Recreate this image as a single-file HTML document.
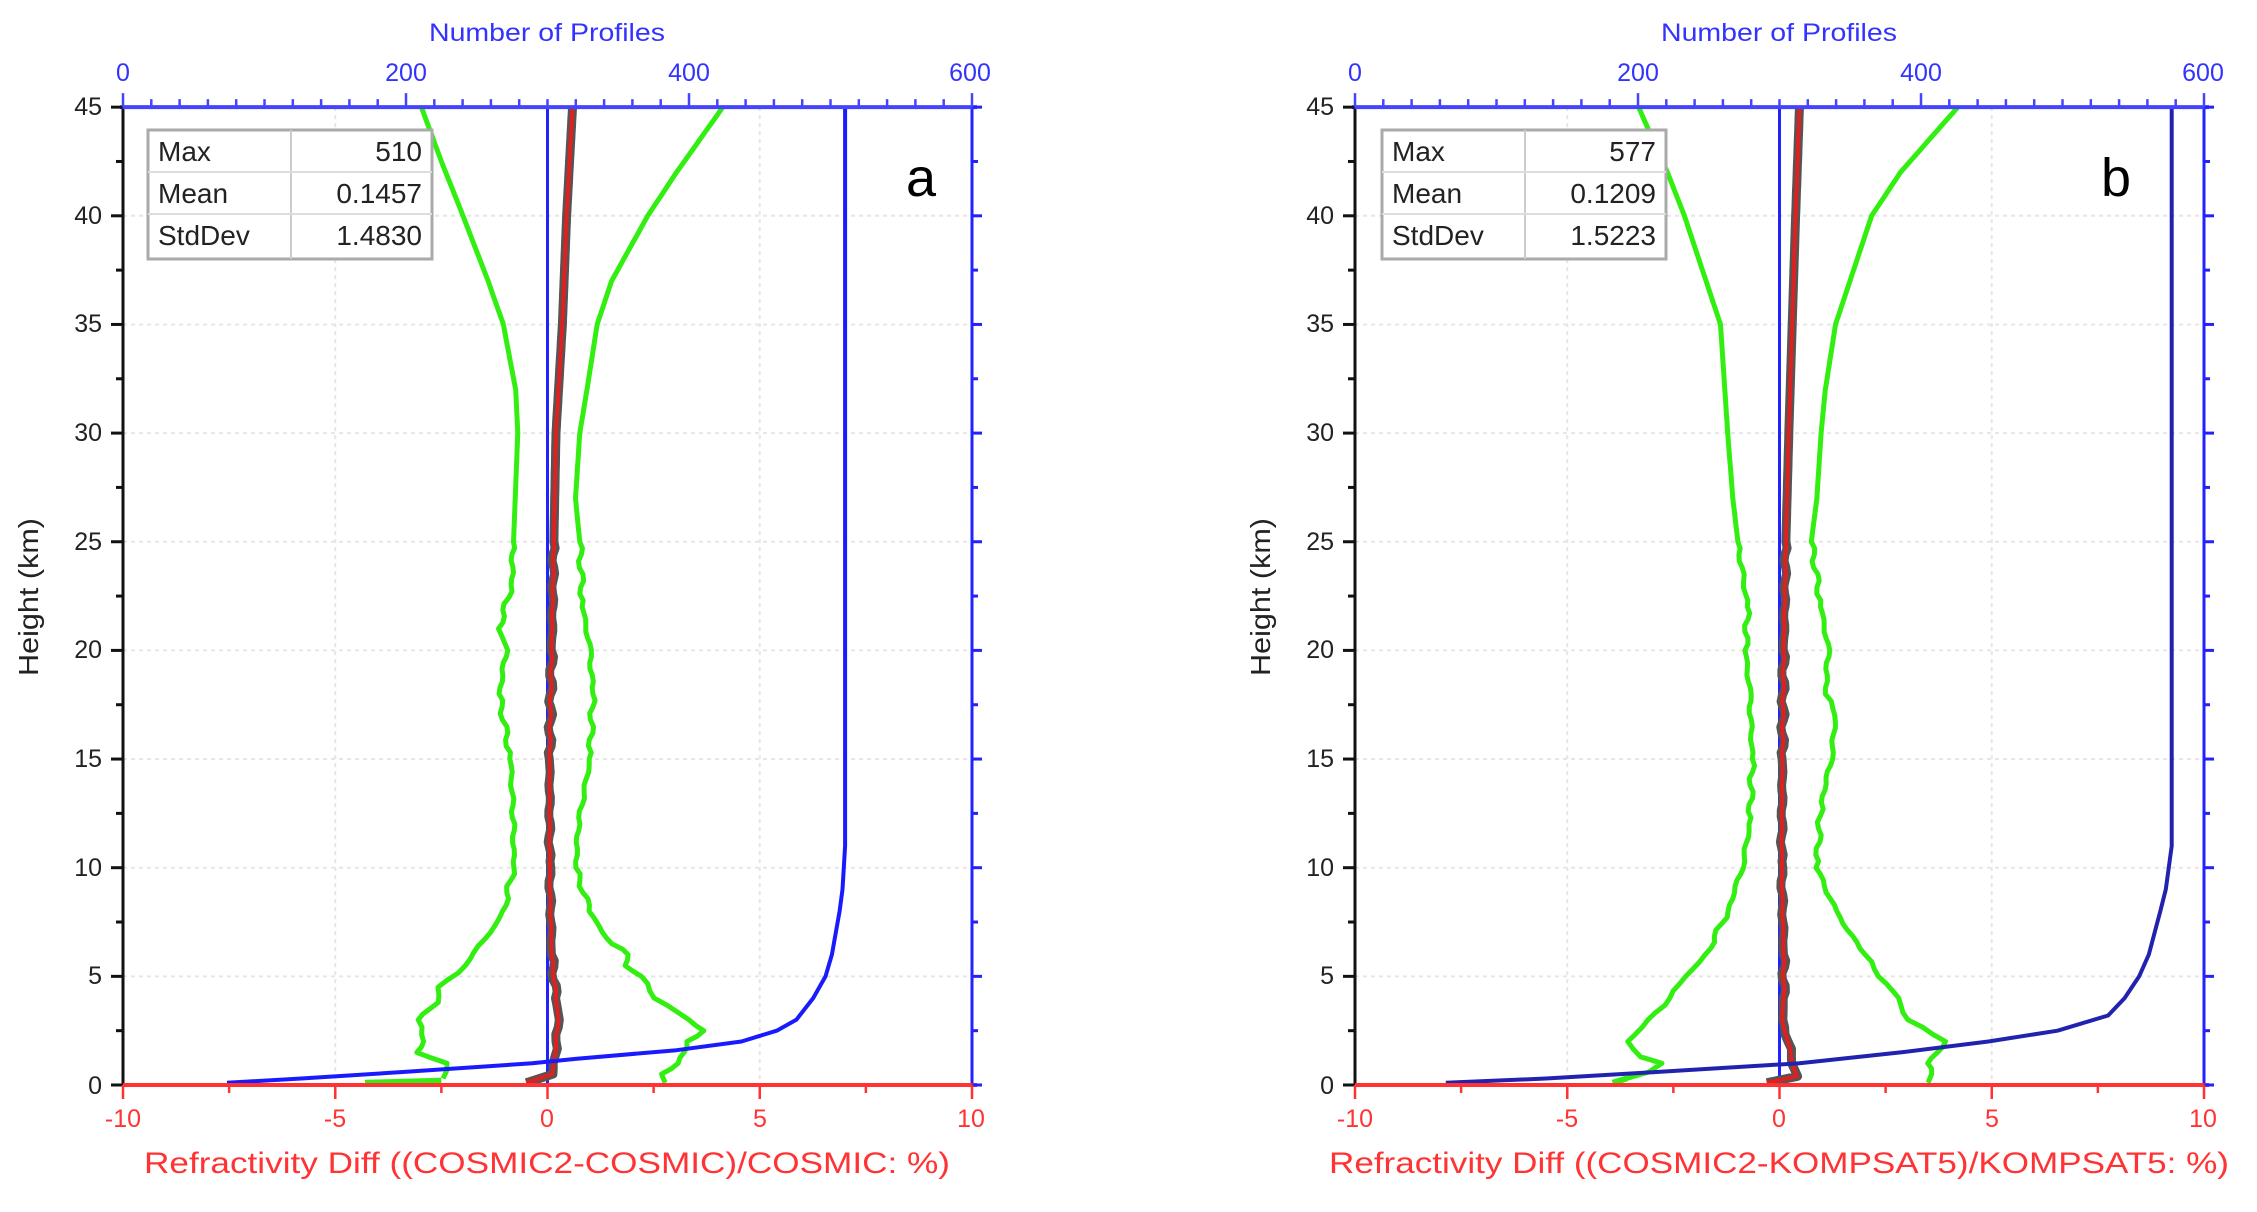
<!DOCTYPE html>
<html><head><meta charset="utf-8"><style>
body{margin:0;background:#fff}
svg{display:block}
text{font-family:"Liberation Sans",Arial,sans-serif}
</style></head><body>
<svg id="s" width="2257" height="1212" viewBox="0 0 2257 1212" xmlns="http://www.w3.org/2000/svg">
<rect width="2257" height="1212" fill="#fff"/>
<g id="g"></g>
<!-- Panel a text -->
<text x="547" y="41" font-size="25" fill="#3333ff" text-anchor="middle" textLength="236" lengthAdjust="spacingAndGlyphs">Number of Profiles</text>
<g font-size="25" fill="#3333ff" text-anchor="middle">
<text x="123" y="81">0</text><text x="406" y="81">200</text><text x="689" y="81">400</text><text x="970" y="81">600</text>
</g>
<g font-size="25" fill="#222" text-anchor="end">
<text x="102" y="115">45</text><text x="102" y="224">40</text><text x="102" y="332">35</text><text x="102" y="441">30</text><text x="102" y="550">25</text><text x="102" y="658">20</text><text x="102" y="767">15</text><text x="102" y="876">10</text><text x="102" y="984">5</text><text x="102" y="1094">0</text>
</g>
<text transform="translate(38,597) rotate(-90)" font-size="28" fill="#222" text-anchor="middle" textLength="158" lengthAdjust="spacingAndGlyphs">Height (km)</text>
<g font-size="25" fill="#ff3333" text-anchor="middle">
<text x="123" y="1127">-10</text><text x="335" y="1127">-5</text><text x="547" y="1127">0</text><text x="760" y="1127">5</text><text x="971" y="1127">10</text>
</g>
<text x="547" y="1173" font-size="30" fill="#ff3333" text-anchor="middle" textLength="806" lengthAdjust="spacingAndGlyphs">Refractivity Diff ((COSMIC2-COSMIC)/COSMIC: %)</text>
<text x="921" y="196" font-size="54" fill="#000" text-anchor="middle">a</text>
<!-- Panel b text -->
<text x="1779" y="41" font-size="25" fill="#3333ff" text-anchor="middle" textLength="236" lengthAdjust="spacingAndGlyphs">Number of Profiles</text>
<g font-size="25" fill="#3333ff" text-anchor="middle">
<text x="1355" y="81">0</text><text x="1638" y="81">200</text><text x="1921" y="81">400</text><text x="2203" y="81">600</text>
</g>
<g font-size="25" fill="#222" text-anchor="end">
<text x="1334" y="115">45</text><text x="1334" y="224">40</text><text x="1334" y="332">35</text><text x="1334" y="441">30</text><text x="1334" y="550">25</text><text x="1334" y="658">20</text><text x="1334" y="767">15</text><text x="1334" y="876">10</text><text x="1334" y="984">5</text><text x="1334" y="1094">0</text>
</g>
<text transform="translate(1270,597) rotate(-90)" font-size="28" fill="#222" text-anchor="middle" textLength="158" lengthAdjust="spacingAndGlyphs">Height (km)</text>
<g font-size="25" fill="#ff3333" text-anchor="middle">
<text x="1355" y="1127">-10</text><text x="1567" y="1127">-5</text><text x="1779" y="1127">0</text><text x="1992" y="1127">5</text><text x="2203" y="1127">10</text>
</g>
<text x="1779" y="1173" font-size="30" fill="#ff3333" text-anchor="middle" textLength="900" lengthAdjust="spacingAndGlyphs">Refractivity Diff ((COSMIC2-KOMPSAT5)/KOMPSAT5: %)</text>
<text x="2116" y="196" font-size="54" fill="#000" text-anchor="middle">b</text>
<!-- stats boxes -->
<g font-size="28" fill="#222">
<rect x="148" y="130" width="284" height="129" fill="#fff" stroke="#aaa" stroke-width="3"/>
<line x1="291" y1="130" x2="291" y2="259" stroke="#ccc" stroke-width="2"/>
<line x1="148" y1="172" x2="432" y2="172" stroke="#ddd" stroke-width="2"/>
<line x1="148" y1="214" x2="432" y2="214" stroke="#ddd" stroke-width="2"/>
<text x="158" y="161">Max</text><text x="422" y="161" text-anchor="end">510</text>
<text x="158" y="203">Mean</text><text x="422" y="203" text-anchor="end">0.1457</text>
<text x="158" y="245">StdDev</text><text x="422" y="245" text-anchor="end">1.4830</text>
<rect x="1382" y="130" width="284" height="129" fill="#fff" stroke="#aaa" stroke-width="3"/>
<line x1="1525" y1="130" x2="1525" y2="259" stroke="#ccc" stroke-width="2"/>
<line x1="1382" y1="172" x2="1666" y2="172" stroke="#ddd" stroke-width="2"/>
<line x1="1382" y1="214" x2="1666" y2="214" stroke="#ddd" stroke-width="2"/>
<text x="1392" y="161">Max</text><text x="1656" y="161" text-anchor="end">577</text>
<text x="1392" y="203">Mean</text><text x="1656" y="203" text-anchor="end">0.1209</text>
<text x="1392" y="245">StdDev</text><text x="1656" y="245" text-anchor="end">1.5223</text>
</g>
</svg>
<script>
(function(){
var NS="http://www.w3.org/2000/svg",g=document.getElementById('g');
var Y0=1085,KY=21.73,KX=42.45,W=849;
function el(t,a){var e=document.createElementNS(NS,t);for(var k in a)e.setAttribute(k,a[k]);g.appendChild(e);return e;}
function panel(ox,d){
 var X=function(x){return ox+(x+10)*KX},Y=function(h){return Y0-h*KY};
 var top=Y(45);
 [-5,0,5].forEach(function(v){el('line',{x1:X(v),y1:top,x2:X(v),y2:Y0,stroke:'#e6e6e6','stroke-width':2,'stroke-dasharray':'4 4'})});
 for(var h=5;h<45;h+=5)el('line',{x1:ox,y1:Y(h),x2:ox+W,y2:Y(h),stroke:'#e6e6e6','stroke-width':2,'stroke-dasharray':'4 4'});
 function path(pts,c,w){var s='';pts.forEach(function(p,i){s+=(i?'L':'M')+X(p[0]).toFixed(1)+','+Y(p[1]).toFixed(1)});el('path',{d:s,fill:'none',stroke:c,'stroke-width':w,'stroke-linejoin':'round'});}
 function wig(pts,amp){var out=[];for(var i=0;i<pts.length-1;i++){var a=pts[i],b=pts[i+1];var n=Math.max(1,Math.round(Math.abs(a[1]-b[1])/0.3));for(var j=0;j<n;j++){var t=j/n;var y=a[1]+(b[1]-a[1])*t;var x=a[0]+(b[0]-a[0])*t;if(y<25)x+=amp*Math.sin(i*7.3+j*3.1)*Math.cos(j*1.7+i);out.push([x,y]);}}out.push(pts[pts.length-1]);return out;}
 el('line',{x1:X(0),y1:top,x2:X(0),y2:Y0,stroke:'#2222ff','stroke-width':3});
 path(wig(d.gl,0.06),'#33ee11',5);
 path(wig(d.gr,0.06),'#33ee11',5);
 path(d.gz,'#33ee11',6);
 path(wig(d.m,0.05),'#555',9);
 path(wig(d.m,0.02),'#dd2020',4);
 path(d.b,d.bc,4);
 el('line',{x1:ox,y1:top,x2:ox,y2:Y0,stroke:'#111','stroke-width':3});
 el('line',{x1:ox+W,y1:top,x2:ox+W,y2:Y0,stroke:'#2222ff','stroke-width':3});
 el('line',{x1:ox-3,y1:top,x2:ox+W+5,y2:top,stroke:'#4444ff','stroke-width':4});
 el('line',{x1:ox,y1:Y0,x2:ox+W+5,y2:Y0,stroke:'#ff3333','stroke-width':4});
 for(var h=0;h<=45;h+=2.5){var mj=(h%5==0);el('line',{x1:ox-(mj?12:7),y1:Y(h),x2:ox,y2:Y(h),stroke:'#111','stroke-width':3});el('line',{x1:ox+W,y1:Y(h),x2:ox+W+(mj?10:6),y2:Y(h),stroke:'#2222ff','stroke-width':3});}
 for(var n=0;n<=600;n+=20){var xx=ox+n/600*W,mj=(n%200==0);el('line',{x1:xx,y1:top,x2:xx,y2:top-(mj?14:8),stroke:'#4444ff','stroke-width':2.5});}
 for(var v=-10;v<=10;v+=2.5){var mj=(v%5==0);el('line',{x1:X(v),y1:Y0,x2:X(v),y2:Y0+(mj?14:8),stroke:'#ff3333','stroke-width':2.5});}
}
panel(123,{
 gl:[[-2.97,45],[-2.5,42.5],[-1.99,40],[-1.4,37],[-1.04,35],[-0.75,32],[-0.7,30],[-0.8,25],[-0.85,23],[-1.14,21],[-0.97,20],[-1.14,18],[-0.87,15],[-0.8,12],[-0.8,10],[-1.04,8],[-1.38,7],[-1.95,5.5],[-2.56,4.5],[-2.6,3.8],[-3.07,3],[-2.9,2],[-3.1,1.5],[-2.4,1],[-2.46,0.3]],
 gr:[[4.13,45],[3.04,42],[2.36,40],[1.51,37],[1.17,35],[0.93,32],[0.76,30],[0.66,27],[0.76,25],[0.83,22],[1.0,20],[1.07,18],[1.0,15],[0.73,12],[0.66,10],[1.0,8],[1.27,7],[1.5,6.5],[1.92,6],[1.8,5.5],[2.19,5],[2.53,4],[3.31,3],[3.65,2.5],[3.3,2],[3.2,1.5],[3.04,1],[2.7,0.5],[2.77,0.1]],
 gz:[[-4.3,0.1],[-2.5,0.2]],
 m:[[0.59,45],[0.45,40],[0.35,35],[0.2,30],[0.15,25],[0.1,20],[0.05,15],[0.05,10],[0.1,6],[0.2,4],[0.25,3],[0.2,2],[0.15,1],[0.1,0.5],[-0.5,0.1]],
 b:[[7.01,45],[7.01,11],[6.95,9],[6.88,8],[6.7,6],[6.55,5],[6.26,4],[5.86,3],[5.4,2.5],[4.57,2],[3.04,1.6],[0.66,1.2],[-0.36,1],[-3.41,0.6],[-5.8,0.3],[-7.55,0.1]],
 bc:'#1a1aff'
});
panel(1355,{
 gl:[[-3.32,45],[-2.64,42],[-2.24,40],[-1.73,37],[-1.39,35],[-1.22,30],[-1.1,27],[-0.98,25],[-0.75,22],[-0.8,20],[-0.7,18],[-0.64,15],[-0.7,12],[-0.88,10],[-1.22,8],[-1.73,6],[-2.24,5],[-2.6,4],[-3.08,3],[-3.6,2],[-3.3,1.3],[-2.75,1],[-3.1,0.6],[-3.93,0.1]],
 gr:[[4.2,45],[2.85,42],[2.17,40],[1.66,37],[1.32,35],[1.08,32],[0.98,30],[0.88,27],[0.75,25],[0.98,22],[1.15,20],[1.08,18],[1.32,17],[1.22,15],[0.98,13],[0.88,10],[1.32,8],[2.0,6],[2.35,5],[2.78,4],[3.0,3],[3.93,2],[3.7,1.5],[3.46,1],[3.6,0.5],[3.5,0.1]],
 gz:[[-3.93,0.1],[-3.6,0.3]],
 m:[[0.47,45],[0.38,40],[0.3,35],[0.22,30],[0.15,25],[0.1,20],[0.07,15],[0.05,10],[0.1,6],[0.1,4],[0.05,3],[0.2,2],[0.3,1],[0.4,0.4],[-0.3,0.1]],
 b:[[9.24,45],[9.24,11],[9.1,9],[8.97,8],[8.7,6],[8.47,5],[8.13,4],[7.74,3.2],[6.55,2.5],[4.92,2],[2.85,1.5],[0.47,1],[-2.9,0.6],[-5.5,0.3],[-7.86,0.1]],
 bc:'#2222b0'
});
})();
</script>
</body></html>
